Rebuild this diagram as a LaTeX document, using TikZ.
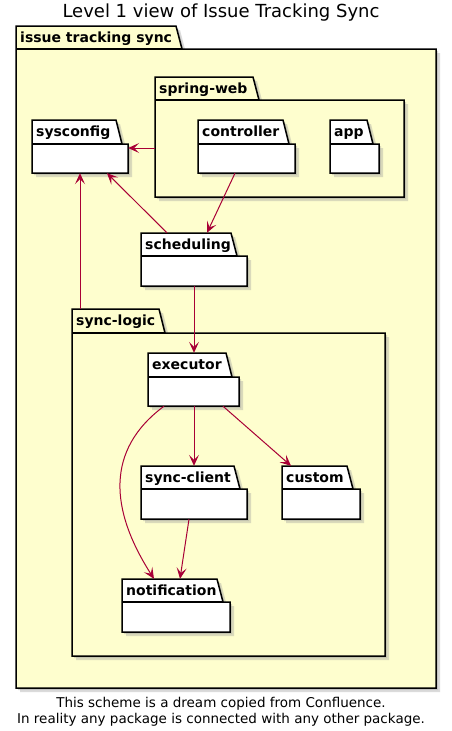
\documentclass[tikz,border=0pt]{standalone}
\usepackage{fontspec}
\setmainfont{DejaVu Sans}
\usetikzlibrary{arrows.meta,fit,calc}
\definecolor{pkyellow}{HTML}{FEFECE}
\definecolor{arrowred}{HTML}{A80036}
\tikzset{
  pkline/.style={draw=black, line width=1.5pt, line join=miter},
  pkshadow/.style={fill=black!40, opacity=0.35},
  pklabel/.style={anchor=base west, inner sep=0pt, font=\bfseries\fontsize{14}{16}\selectfont},
  arr/.style={draw=arrowred, line width=1pt, -{Stealth[length=11pt,width=10pt,inset=5pt]}},
  titlefont/.style={font=\fontsize{18}{21}\selectfont},
  capfont/.style={font=\fontsize{13.5}{16}\selectfont},
}
% #1 name, #2 x0, #3 ytop, #4 xtab(bottom), #5 ytabbot, #6 x1, #7 ybot, #8 label, #9 fill
\newcommand\pkgdraw[9]{%
  \fill[pkshadow] (#2+4,#3+4) -- (#4-6+4,#3+4) -- (#4+4,#5+4) -- (#6+4,#5+4) -- (#6+4,#7+4) -- (#2+4,#7+4) -- cycle;
  \fill[pkshadow] (#2+2,#3+2) -- (#4-6+2,#3+2) -- (#4+2,#5+2) -- (#6+2,#5+2) -- (#6+2,#7+2) -- (#2+2,#7+2) -- cycle;
  \draw[pkline, fill=#9] (#2,#3) -- (#4-6,#3) -- (#4,#5) -- (#6,#5) -- (#6,#7) -- (#2,#7) -- cycle;
  \draw[pkline] (#2,#5) -- (#4,#5);
  \node[pklabel] (#1-l) at (#2+4,#3+16) {#8};
  \node[fit={(#2,#3)(#6,#7)}, inner sep=0pt] (#1) {};
}
\begin{document}
\begin{tikzpicture}[x=1pt,y=-1pt]
\useasboundingbox[fill=white] (0,0) rectangle (452,731);
\node[titlefont, anchor=base] (title) at (221,17) {Level 1 view of Issue Tracking Sync};

\pkgdraw{its}{16}{26}{182}{49}{436}{688}{issue tracking sync}{pkyellow}
\pkgdraw{spring-web}{155}{77}{259}{100}{404}{197}{spring-web}{pkyellow}
\pkgdraw{sysconfig}{32}{120}{122}{144}{128}{173}{sysconfig}{white}
\pkgdraw{controller}{198}{120}{289}{144}{295}{173}{controller}{white}
\pkgdraw{app}{330}{120}{373}{144}{379}{173}{app}{white}
\pkgdraw{scheduling}{141}{233}{237}{256}{247}{286}{scheduling}{white}
\pkgdraw{sync-logic}{72}{309}{165}{333}{385}{656}{sync-logic}{pkyellow}
\pkgdraw{executor}{148}{353}{232}{377}{239}{406}{executor}{white}
\pkgdraw{sync-client}{141}{466}{240}{489}{247}{519}{sync-client}{white}
\pkgdraw{custom}{282}{466}{353}{489}{360}{519}{custom}{white}
\pkgdraw{notification}{122}{579}{223}{602}{230}{632}{notification}{white}

\draw[arr] ([yshift=-11pt]spring-web.west) -- ([yshift=-1.5pt]sysconfig.east);
\draw[arr] ([xshift=-11.5pt]controller.south) -- ([xshift=13pt]scheduling.north);
\draw[arr] ([xshift=-27pt]scheduling.north) -- ([xshift=27pt]sysconfig.south);
\draw[arr] ([xshift=-148.5pt]sync-logic.north) -- (sysconfig.south);
\draw[arr] (scheduling.south) -- ([xshift=0.5pt]executor.north);
\draw[arr] ([xshift=0.5pt]executor.south) -- (sync-client.north);
\draw[arr] ([xshift=29.5pt]executor.south) -- ([xshift=-30pt]custom.north);
\draw[arr] ([xshift=-29.5pt]executor.south) .. controls (105,450) and (110,510) .. ([xshift=-22pt]notification.north);
\draw[arr] ([xshift=-5pt]sync-client.south) -- ([xshift=4pt]notification.north);

\node[capfont, align=center, anchor=north] (caption) at (221,694) {This scheme is a dream copied from Confluence.\\In reality any package is connected with any other package.};
\end{tikzpicture}
\end{document}
